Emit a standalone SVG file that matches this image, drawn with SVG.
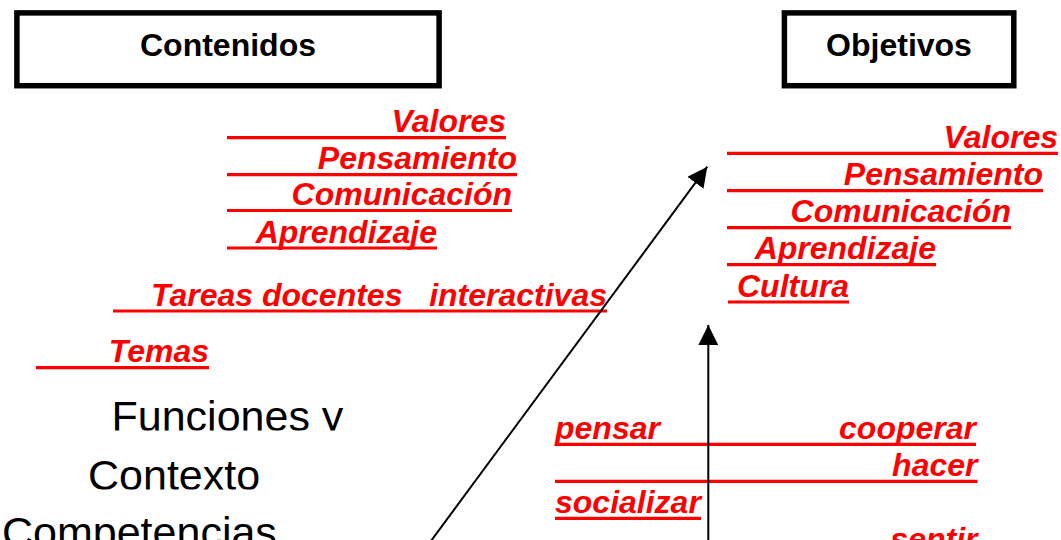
<svg xmlns="http://www.w3.org/2000/svg" width="1061" height="540" viewBox="0 0 1061 540">
<style>
.box{fill:#fff;stroke:#000;stroke-width:5.5}
.bt{font-family:"Liberation Sans",Arial,sans-serif;font-weight:bold;font-size:32px;fill:#000;text-anchor:middle}
.r{font-family:"Liberation Sans",Arial,sans-serif;font-weight:bold;font-style:italic;font-size:32px;fill:#ff0000}
.e{text-anchor:end}
.u{stroke:#ff0000;stroke-width:3.2}
.k{font-family:"Liberation Sans",Arial,sans-serif;font-size:43px;fill:#000}
.c{stroke:#000;stroke-width:2;fill:none}
</style>
<defs>
<marker id="ah" markerUnits="userSpaceOnUse" markerWidth="20" markerHeight="20" refX="20" refY="10" orient="auto" viewBox="0 0 20 20">
<path d="M0,0 L20,10 L0,20 z" fill="#000"/>
</marker>
<clipPath id="cl1"><rect x="0" y="380" width="400" height="50.5"/></clipPath>
<clipPath id="cl2"><rect x="0" y="440" width="400" height="49.5"/></clipPath>
</defs>
<g id="contenidos">
<rect class="box" x="16.9" y="12.9" width="422.2" height="72.8"/>
<text class="bt" x="228" y="55.5">Contenidos</text>
</g>
<g id="objetivos">
<rect class="box" x="784.4" y="12.9" width="229.4" height="72.8"/>
<text class="bt" x="899" y="55.5">Objetivos</text>
</g>
<g id="contenidos-lista">
<line class="u" x1="227" y1="137.7" x2="506" y2="137.7"/>
<text class="r e" x="506" y="132.2">Valores</text>
<line class="u" x1="227" y1="174.7" x2="517" y2="174.7"/>
<text class="r e" x="517" y="169.2">Pensamiento</text>
<line class="u" x1="227" y1="210.5" x2="512" y2="210.5"/>
<text class="r e" x="512" y="205">Comunicación</text>
<line class="u" x1="227" y1="248" x2="437" y2="248"/>
<text class="r e" x="437" y="242.5">Aprendizaje</text>
<line class="u" x1="113" y1="311" x2="607" y2="311"/>
<text class="r e" x="607" y="305.5" xml:space="preserve" style="white-space:pre">Tareas docentes   interactivas</text>
<line class="u" x1="36" y1="367.7" x2="209" y2="367.7"/>
<text class="r e" x="209" y="362.2">Temas</text>
</g>
<g id="objetivos-lista">
<line class="u" x1="727" y1="153.3" x2="1058" y2="153.3"/>
<text class="r e" x="1058" y="147.8">Valores</text>
<line class="u" x1="727" y1="190.7" x2="1043" y2="190.7"/>
<text class="r e" x="1043" y="185.2">Pensamiento</text>
<line class="u" x1="727" y1="227.7" x2="1011" y2="227.7"/>
<text class="r e" x="1011" y="222.2">Comunicación</text>
<line class="u" x1="727" y1="264.7" x2="936" y2="264.7"/>
<text class="r e" x="936" y="259.2">Aprendizaje</text>
<line class="u" x1="728" y1="302" x2="849" y2="302"/>
<text class="r e" x="849" y="296.5">Cultura</text>
</g>
<g id="acciones">
<line class="u" x1="555" y1="444.3" x2="976" y2="444.3"/>
<text class="r" x="555" y="438.8">pensar</text>
<text class="r e" x="976" y="438.8">cooperar</text>
<line class="u" x1="555" y1="481.3" x2="977.5" y2="481.3"/>
<text class="r e" x="977.5" y="475.8">hacer</text>
<line class="u" x1="555" y1="518.3" x2="701" y2="518.3"/>
<text class="r" x="555" y="512.8">socializar</text>
<text class="r e" x="977.5" y="550">sentir</text>
</g>
<g id="funciones">
<text class="k" x="111.5" y="431" clip-path="url(#cl1)">Funciones y</text>
<text class="k" x="88" y="490" clip-path="url(#cl2)">Contexto</text>
<text class="k" x="2" y="547">Competencias</text>
</g>
<g id="connectors">
<line class="c" x1="428" y1="545" x2="707.3" y2="166.7" marker-end="url(#ah)"/>
<line class="c" x1="708.3" y1="545" x2="708.3" y2="325" marker-end="url(#ah)"/>
</g>
</svg>
